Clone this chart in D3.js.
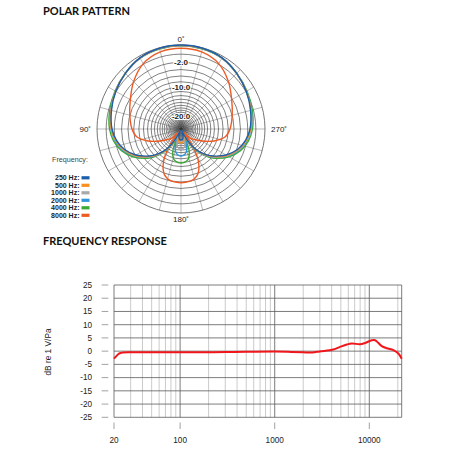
<!DOCTYPE html>
<meta charset="utf-8">
<style>
	body { margin: 0; background: #fff; }
	text { font-family: "Liberation Sans", Arial, sans-serif; }
	.title { font-family: Lato, "Open Sans", sans-serif; font-weight: 700; font-size: 11px; fill: #111; }
</style>
<body>
<div id="chart"></div>
<script src="https://d3js.org/d3.v7.min.js"></script>
<script>
// polar data: angle (deg from front) -> level in dB, symmetric pattern
const polarAngles = [0, 15, 30, 45, 60, 75, 90, 100, 110, 120, 130, 135, 140, 145, 150, 153, 156, 160, 165, 170, 175, 180];
const polar250  = [0, -0.04, -0.19, -0.56, -0.95, -1.34, -1.71, -2.16, -2.92, -4.17, -6.02, -7.24, -8.80, -11.06, -15.56, -21.58, -34.96, -26.44, -20.42, -18.49, -17.82, -17.66];
const polar500  = [-0.02, -0.06, -0.21, -0.56, -0.93, -1.29, -1.63, -2.07, -2.81, -4.0, -5.82, -7.0, -8.57, -10.77, -14.96, -20.42, -32.47, -24.51, -18.06, -16.21, -15.69, -15.56];
const polar1000 = [-0.05, -0.08, -0.22, -0.57, -0.92, -1.27, -1.58, -2.02, -2.74, -3.92, -5.72, -6.89, -8.44, -10.6, -14.68, -20.42, -28.94, -19.4, -14.96, -13.14, -12.6, -12.47];
const polar2000 = [-0.05, -0.08, -0.22, -0.57, -0.92, -1.24, -1.56, -1.96, -2.67, -3.84, -5.62, -6.75, -8.3, -10.46, -14.4, -22.92, -20.42, -14.4, -11.64, -10.53, -10.02, -9.86];
const polar4000 = [-0.08, -0.12, -0.23, -0.56, -0.85, -1.13, -1.4, -1.77, -2.46, -3.6, -5.33, -6.44, -7.99, -10.02, -13.88, -24.51, -16.55, -10.88, -8.94, -8.25, -7.93, -7.86];
const polar8000 = [-0.35, -0.45, -0.93, -1.96, -3.14, -4.0, -4.68, -5.42, -7.6, -10.88, -14.4, -16.21, -26.44, -12.91, -8.12, -6.66, -5.62, -4.77, -4.25, -4.0, -3.92, -3.89];

const freqNames = ["250 Hz:", "500 Hz:", "1000 Hz:", "2000 Hz:", "4000 Hz:", "8000 Hz:"];
const freqColors = ["#1b5eab", "#f7901e", "#a8a8a8", "#2f96dc", "#3aaa35", "#ee5a24"];
const polarSeries = [polar250, polar500, polar1000, polar2000, polar4000, polar8000];

const ringLevels = d3.range(0, -31, -1);
const ringTickLabels = ["-2.0", "-10.0", "-20.0"];
const ringTickAt = [-2, -6, -16];
const spokeAngles = d3.range(0, 360, 15);
const angleLabels = ["0˚", "90˚", "180˚", "270˚"];
const angleLabelAt = [0, 90, 180, 270];

// frequency response
const respFreq = [20, 21, 22, 23, 25, 30, 50, 100, 300, 1000, 1500, 2000, 2500, 3000, 4170, 4910, 5780, 6530, 8000, 9040, 10620, 11520, 12480, 13540, 15300, 18000, 20300, 22000];
const respDb   = [-2.8, -2.0, -1.3, -0.8, -0.5, -0.4, -0.4, -0.4, -0.35, -0.15, -0.3, -0.45, -0.5, -0.1, 0.6, 1.6, 2.5, 2.9, 2.6, 3.1, 4.1, 4.1, 3.1, 1.9, 1.1, 0.4, -0.9, -2.85];
const yTicks = d3.range(-25, 26, 5);
const xTickValues = [20, 100, 1000, 10000];

const width = 450, height = 450;
const svg = d3.select("#chart").append("svg")
	.attr("width", width)
	.attr("height", height);
svg.append("rect").attr("width", width).attr("height", height).attr("fill", "#fff");

// ---------- polar pattern ----------
svg.append("text").attr("class", "title").attr("x", 43).attr("y", 15).text("POLAR PATTERN");

const cx = 181, cy = 129, R = 84;
const amp = d3.scaleLinear().domain([0, 1]).range([0, R]);
const rOf = db => amp(Math.pow(10, db / 20));

const pg = svg.append("g").attr("transform", `translate(${cx},${cy})`);

pg.selectAll("line.spoke")
	.data(spokeAngles)
	.enter().append("line")
	.attr("x1", 0).attr("y1", 0)
	.attr("x2", d => -R * Math.sin(d * Math.PI / 180))
	.attr("y2", d => -R * Math.cos(d * Math.PI / 180))
	.attr("stroke", "#8a8a8a")
	.attr("stroke-width", 0.6);

pg.selectAll("circle.ring")
	.data(ringLevels)
	.enter().append("circle")
	.attr("r", d => rOf(d))
	.attr("fill", "none")
	.attr("stroke", d => d === 0 ? "#666" : "#4a4a4a")
	.attr("stroke-width", d => d === 0 ? 0.9 : 0.7);

pg.append("circle").attr("r", 2).attr("fill", "#333");

const radial = d3.lineRadial()
	.angle(d => -d.a * Math.PI / 180)
	.radius(d => rOf(d.db))
	.curve(d3.curveCatmullRomClosed.alpha(0.5));

function mirrored(vals) {
	const pts = polarAngles.map((a, i) => ({ a: a, db: vals[i] }));
	for (let i = polarAngles.length - 2; i > 0; i--) {
		pts.push({ a: 360 - polarAngles[i], db: vals[i] });
	}
	return pts;
}

d3.range(polarSeries.length - 1, -1, -1).forEach(i => {
	pg.append("path")
		.attr("d", radial(mirrored(polarSeries[i])))
		.attr("fill", "none")
		.attr("stroke", freqColors[i])
		.attr("stroke-width", 1.4);
});

pg.selectAll("text.ringlab")
	.data(ringTickLabels)
	.enter().append("text")
	.attr("x", 0)
	.attr("y", (d, i) => -rOf(ringTickAt[i]))
	.attr("dy", "0.35em")
	.attr("text-anchor", "middle")
	.attr("font-size", 8)
	.attr("font-weight", "bold")
	.attr("fill", "#222")
	.attr("stroke", "#fff")
	.attr("stroke-width", 2)
	.attr("paint-order", "stroke")
	.text(d => d);

pg.selectAll("text.anglab")
	.data(angleLabels)
	.enter().append("text")
	.attr("x", (d, i) => -(R + 6) * Math.sin(angleLabelAt[i] * Math.PI / 180))
	.attr("y", (d, i) => -(R + 6) * Math.cos(angleLabelAt[i] * Math.PI / 180))
	.attr("dy", "0.35em")
	.attr("text-anchor", (d, i) => angleLabelAt[i] === 90 ? "end" : angleLabelAt[i] === 270 ? "start" : "middle")
	.attr("font-size", 8)
	.attr("fill", "#222")
	.text(d => d);

// legend
svg.append("text").attr("x", 52).attr("y", 162)
	.attr("font-size", 7.2).attr("fill", "#444").text("Frequency:");

const lg = svg.append("g");
lg.selectAll("text")
	.data(freqNames)
	.enter().append("text")
	.attr("x", 79.5)
	.attr("y", (d, i) => 177.7 + i * 7.5)
	.attr("dy", "0.35em")
	.attr("text-anchor", "end")
	.attr("font-size", 7)
	.attr("font-weight", "bold")
	.attr("fill", "#222")
	.text(d => d);
lg.selectAll("rect")
	.data(freqColors)
	.enter().append("rect")
	.attr("x", 81.5)
	.attr("y", (d, i) => 176.2 + i * 7.5)
	.attr("width", 8)
	.attr("height", 3.2)
	.attr("fill", d => d);

// ---------- frequency response ----------
svg.append("text").attr("class", "title").attr("x", 43).attr("y", 245).text("FREQUENCY RESPONSE");

const x = d3.scaleLog().domain([20, 22000]).range([114, 401.7]);
const y = d3.scaleLinear().domain([-25, 25]).range([417.3, 285]);

const fg = svg.append("g");

fg.selectAll("line.minor")
	.data(x.ticks().filter(d => xTickValues.indexOf(d) < 0))
	.enter().append("line")
	.attr("x1", d => x(d)).attr("x2", d => x(d))
	.attr("y1", y(25)).attr("y2", y(-25))
	.attr("stroke", "#b4b4b4")
	.attr("stroke-width", 0.7);

fg.selectAll("line.hgrid")
	.data(yTicks)
	.enter().append("line")
	.attr("x1", x(20)).attr("x2", x(22000))
	.attr("y1", d => y(d)).attr("y2", d => y(d))
	.attr("stroke", "#5a5a5a")
	.attr("stroke-width", 0.8);

fg.selectAll("line.major")
	.data([20, 100, 1000, 10000, 22000])
	.enter().append("line")
	.attr("x1", d => x(d)).attr("x2", d => x(d))
	.attr("y1", y(25)).attr("y2", y(-25))
	.attr("stroke", "#5a5a5a")
	.attr("stroke-width", 0.8);

// y ticks
fg.selectAll("line.ytick")
	.data(yTicks)
	.enter().append("line")
	.attr("x1", 101.7).attr("x2", 108.3)
	.attr("y1", d => y(d)).attr("y2", d => y(d))
	.attr("stroke", "#8a8a8a")
	.attr("stroke-width", 0.8);
fg.selectAll("text.ylab")
	.data(yTicks)
	.enter().append("text")
	.attr("x", 92)
	.attr("y", d => y(d))
	.attr("dy", "0.35em")
	.attr("text-anchor", "end")
	.attr("font-size", 8.2)
	.attr("fill", "#222")
	.text(d => d);

// x ticks
fg.selectAll("line.xtick")
	.data(xTickValues)
	.enter().append("line")
	.attr("x1", d => x(d)).attr("x2", d => x(d))
	.attr("y1", 422.5).attr("y2", 429)
	.attr("stroke", "#8a8a8a")
	.attr("stroke-width", 0.8);
fg.selectAll("text.xlab")
	.data(xTickValues)
	.enter().append("text")
	.attr("x", d => x(d))
	.attr("y", 443)
	.attr("text-anchor", "middle")
	.attr("font-size", 8.2)
	.attr("fill", "#222")
	.text(d => d);

svg.append("text")
	.attr("transform", "translate(51,352) rotate(-90)")
	.attr("text-anchor", "middle")
	.attr("font-size", 8.3)
	.attr("fill", "#222")
	.text("dB re 1 V/Pa");

const line = d3.line()
	.x((d, i) => x(respFreq[i]))
	.y(d => y(d))
	.curve(d3.curveCatmullRom.alpha(0.5));

fg.append("path")
	.attr("d", line(respDb))
	.attr("fill", "none")
	.attr("stroke", "#f0161b")
	.attr("stroke-width", 2);
</script>
</body>
